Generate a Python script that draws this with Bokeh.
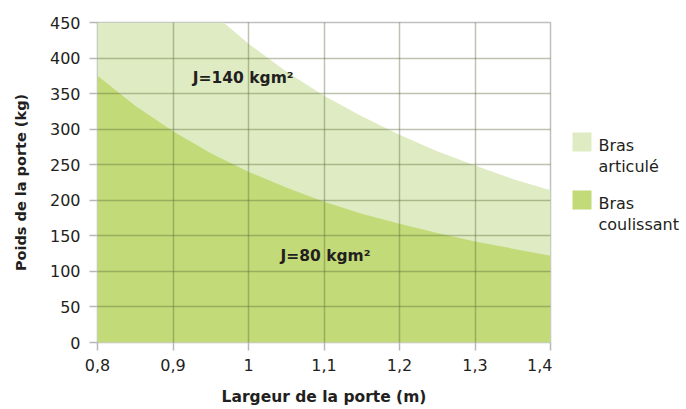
from bokeh.plotting import figure
from bokeh.models import Label, FixedTicker, Range1d
from bokeh.layouts import row
from bokeh.core.properties import value
from bokeh.embed import file_html
from bokeh.resources import INLINE

# Data
lower_x = [0.80, 0.85, 0.90, 0.95, 1.00, 1.05, 1.10, 1.15, 1.20, 1.25, 1.30, 1.35, 1.40]
lower_y = [375, 333, 297, 266, 240, 218, 198, 181, 167, 154, 142, 132, 122]   # J=80 kgm² (Bras coulissant)
upper_x = [0.80, 0.90, 0.967, 1.00, 1.05, 1.10, 1.15, 1.20, 1.25, 1.30, 1.35, 1.40]
upper_y = [450, 450, 450, 420, 381, 347, 318, 292, 269, 249, 230, 214]          # J=140 kgm² (Bras articulé)
x_ticks = [0.8, 0.9, 1.0, 1.1, 1.2, 1.3, 1.4]
x_tick_labels = ["0,8", "0,9", "1", "1,1", "1,2", "1,3", "1,4"]
y_ticks = [0, 50, 100, 150, 200, 250, 300, 350, 400, 450]
series_names = [["Bras", "articulé"], ["Bras", "coulissant"]]
annot = [("J=140 kgm²", 0.993, 372), ("J=80 kgm²", 1.102, 122)]

LIGHT = "#dfebc2"
DARK = "#c3da78"
FONT = "DejaVu Sans"
TXT = "#231f20"
H = 408
FRAME_TOP, FRAME_BOTTOM = 22, 342

p = figure(width=552, height=H, x_range=(0.8, 1.4), y_range=(0, 450),
           output_backend="svg", toolbar_location=None,
           min_border_left=97, min_border_right=2, min_border_top=FRAME_TOP,
           min_border_bottom=H - FRAME_BOTTOM)
p.background_fill_color = "white"
p.border_fill_color = "white"
p.outline_line_color = "#c0c0c0"
p.outline_line_width = 1.5

r1 = p.varea(x=upper_x, y1=[0] * len(upper_x), y2=upper_y, fill_color=LIGHT)
r2 = p.varea(x=lower_x, y1=[0] * len(lower_x), y2=lower_y, fill_color=DARK)

for g in (p.xgrid, p.ygrid):
    g.level = "guide"
    g.grid_line_color = "#5a6a3a"
    g.grid_line_alpha = 0.4
    g.grid_line_width = 1.5

p.xaxis.ticker = FixedTicker(ticks=x_ticks)
p.xgrid.ticker = FixedTicker(ticks=x_ticks)
p.yaxis.ticker = FixedTicker(ticks=y_ticks)
p.ygrid.ticker = FixedTicker(ticks=y_ticks)
p.xaxis.major_label_overrides = {t: l for t, l in zip(x_ticks, x_tick_labels)}

for ax in (p.xaxis[0], p.yaxis[0]):
    ax.axis_line_color = None
    ax.major_tick_line_color = "#b8b8b8"
    ax.major_tick_line_width = 1.5
    ax.major_tick_out = 8
    ax.major_tick_in = 0
    ax.minor_tick_line_color = None
    ax.major_label_text_font = FONT
    ax.major_label_text_font_size = "16px"
    ax.major_label_text_color = TXT
    ax.axis_label_text_font = FONT
    ax.axis_label_text_font_style = "bold"
    ax.axis_label_text_color = TXT

p.xaxis.major_label_standoff = 8
p.yaxis.major_label_standoff = 9
p.xaxis.axis_label = "Largeur de la porte (m)"
p.yaxis.axis_label = "Poids de la porte (kg)"
p.xaxis.axis_label_text_font_size = "15.5px"
p.yaxis.axis_label_text_font_size = "14.5px"
p.xaxis.axis_label_standoff = 14
p.yaxis.axis_label_standoff = 18

for t, x, y in annot:
    p.add_layout(Label(x=x, y=y, text=t, text_align="center", text_baseline="middle",
                       text_font=FONT, text_font_size="15.5px", text_font_style="bold",
                       text_color=TXT))

# Legend panel: its frame is aligned with the main frame by the row layout,
# so use page-like pixel coordinates (y downward) over the frame extent.
lg = figure(width=134, height=H, x_range=Range1d(0, 134),
            y_range=Range1d(FRAME_BOTTOM, FRAME_TOP),
            output_backend="svg", toolbar_location=None,
            x_axis_location=None, y_axis_location=None,
            min_border=0, min_border_left=0, min_border_right=0,
            min_border_top=FRAME_TOP, min_border_bottom=H - FRAME_BOTTOM)
lg.grid.visible = False
lg.outline_line_color = None
lg.background_fill_color = "white"
lg.border_fill_color = "white"

sq_top = [132, 190]
colors = [LIGHT, DARK]
lg.quad(left=[20, 20], right=[39, 39], top=sq_top, bottom=[t + 19 for t in sq_top],
        fill_color=colors, line_color=None)
tx, ty, tt = [], [], []
for top, lines in zip(sq_top, series_names):
    for i, ln in enumerate(lines):
        tx.append(46)
        ty.append(top + 13 + 21 * i)
        tt.append(ln)
lg.text(x=tx, y=ty, text=tt, text_font=value(FONT), text_font_size="16px",
        text_color=TXT, text_baseline="alphabetic", text_align="left")

layout = row(p, lg, spacing=0)
open("out.html", "w").write(file_html(layout, INLINE))
